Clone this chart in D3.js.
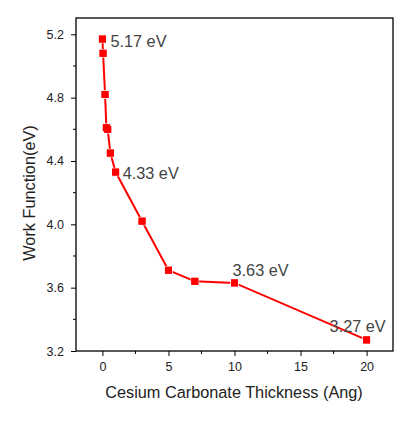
<!DOCTYPE html>
<html><head><meta charset="utf-8">
<script src="https://cdn.jsdelivr.net/npm/d3@7"></script>
<style>body{margin:0;background:#fff}svg{display:block}text{font-family:Arial,"Liberation Sans",sans-serif}</style>
</head><body><svg id="c" width="415" height="423"></svg>
<script>
const thickness = [0, 0.05, 0.2, 0.3, 0.4, 0.6, 1, 3, 5, 7, 10, 20];
const workFunction = [5.17, 5.08, 4.82, 4.61, 4.60, 4.45, 4.33, 4.02, 3.71, 3.64, 3.63, 3.27];
const xTicks = [0, 5, 10, 15, 20];
const yTicks = [3.2, 3.6, 4.0, 4.4, 4.8, 5.2];
const labelX = [0, 1, 10, 20];
const labelY = [5.17, 4.33, 3.63, 3.27];
const labelText = ["5.17 eV", "4.33 eV", "3.63 eV", "3.27 eV"];

const svg = d3.select("#c");
const L = 76, R = 393, T = 18, B = 351;
const x = d3.scaleLinear().domain([-2, 22]).range([L, R]);
const y = d3.scaleLinear().domain([3.2, 5.2]).range([B, 34.3]);

// frame
svg.append("rect").attr("x", L).attr("y", T).attr("width", R - L).attr("height", B - T)
  .attr("fill", "none").attr("stroke", "#000").attr("stroke-width", 1.3);

// minor ticks
const xMinor = d3.range(-2.5, 22, 5).filter(v => v > -2 && v < 22);
svg.append("g").selectAll("line").data(xMinor).join("line")
  .attr("x1", d => x(d)).attr("x2", d => x(d)).attr("y1", B).attr("y2", B + 3)
  .attr("stroke", "#000").attr("stroke-width", 1);
const yMinor = [3.4, 3.8, 4.2, 4.6, 5.0];
svg.append("g").selectAll("line").data(yMinor).join("line")
  .attr("y1", d => y(d)).attr("y2", d => y(d)).attr("x1", L).attr("x2", L - 3)
  .attr("stroke", "#000").attr("stroke-width", 1);

const xAxis = svg.append("g").attr("transform", `translate(0,${B})`)
  .call(d3.axisBottom(x).tickValues(xTicks).tickSize(5).tickPadding(6).tickFormat(d3.format("d")));
const yAxis = svg.append("g").attr("transform", `translate(${L},0)`)
  .call(d3.axisLeft(y).tickValues(yTicks).tickSize(5).tickPadding(7).tickFormat(d3.format(".1f")));
[xAxis, yAxis].forEach(g => {
  g.select(".domain").remove();
  g.selectAll(".tick line").attr("stroke", "#000").attr("stroke-width", 1);
  g.selectAll("text").attr("font-size", 12.5).attr("fill", "#222").attr("font-family", "Arial, 'Liberation Sans', sans-serif");
});

// line
const pts = thickness.map((t, i) => [t, workFunction[i]]);
svg.append("path").datum(pts)
  .attr("d", d3.line().x(d => x(d[0])).y(d => y(d[1])))
  .attr("fill", "none").attr("stroke", "#ff0000").attr("stroke-width", 2);

// markers
svg.append("g").selectAll("rect").data(pts).join("rect")
  .attr("x", d => x(d[0]) - 3.5).attr("y", d => y(d[1]) - 3.5)
  .attr("width", 7).attr("height", 7)
  .attr("fill", "#ff0000").attr("stroke", "#fff").attr("stroke-width", 1.5)
  .attr("paint-order", "stroke");
svg.append("g").selectAll("rect").data(pts).join("rect")
  .attr("x", d => x(d[0]) - 3.5).attr("y", d => y(d[1]) - 3.5)
  .attr("width", 7).attr("height", 7).attr("fill", "#ff0000");

// annotations
const dx = [8, 7, -2, -37];
const dy = [8, 7, -7, -8];
svg.append("g").selectAll("text").data(labelText).join("text")
  .attr("x", (d, i) => x(labelX[i]) + dx[i])
  .attr("y", (d, i) => y(labelY[i]) + dy[i])
  .attr("font-size", 16.3).attr("fill", "#444").text(d => d);

// axis titles
svg.append("text").attr("x", 234).attr("y", 398).attr("text-anchor", "middle")
  .attr("font-size", 16.3).attr("fill", "#222").text("Cesium Carbonate Thickness (Ang)");
svg.append("text").attr("transform", `translate(35,193) rotate(-90)`)
  .attr("text-anchor", "middle").attr("font-size", 16.3).attr("fill", "#222").text("Work Function(eV)");
</script></body></html>
